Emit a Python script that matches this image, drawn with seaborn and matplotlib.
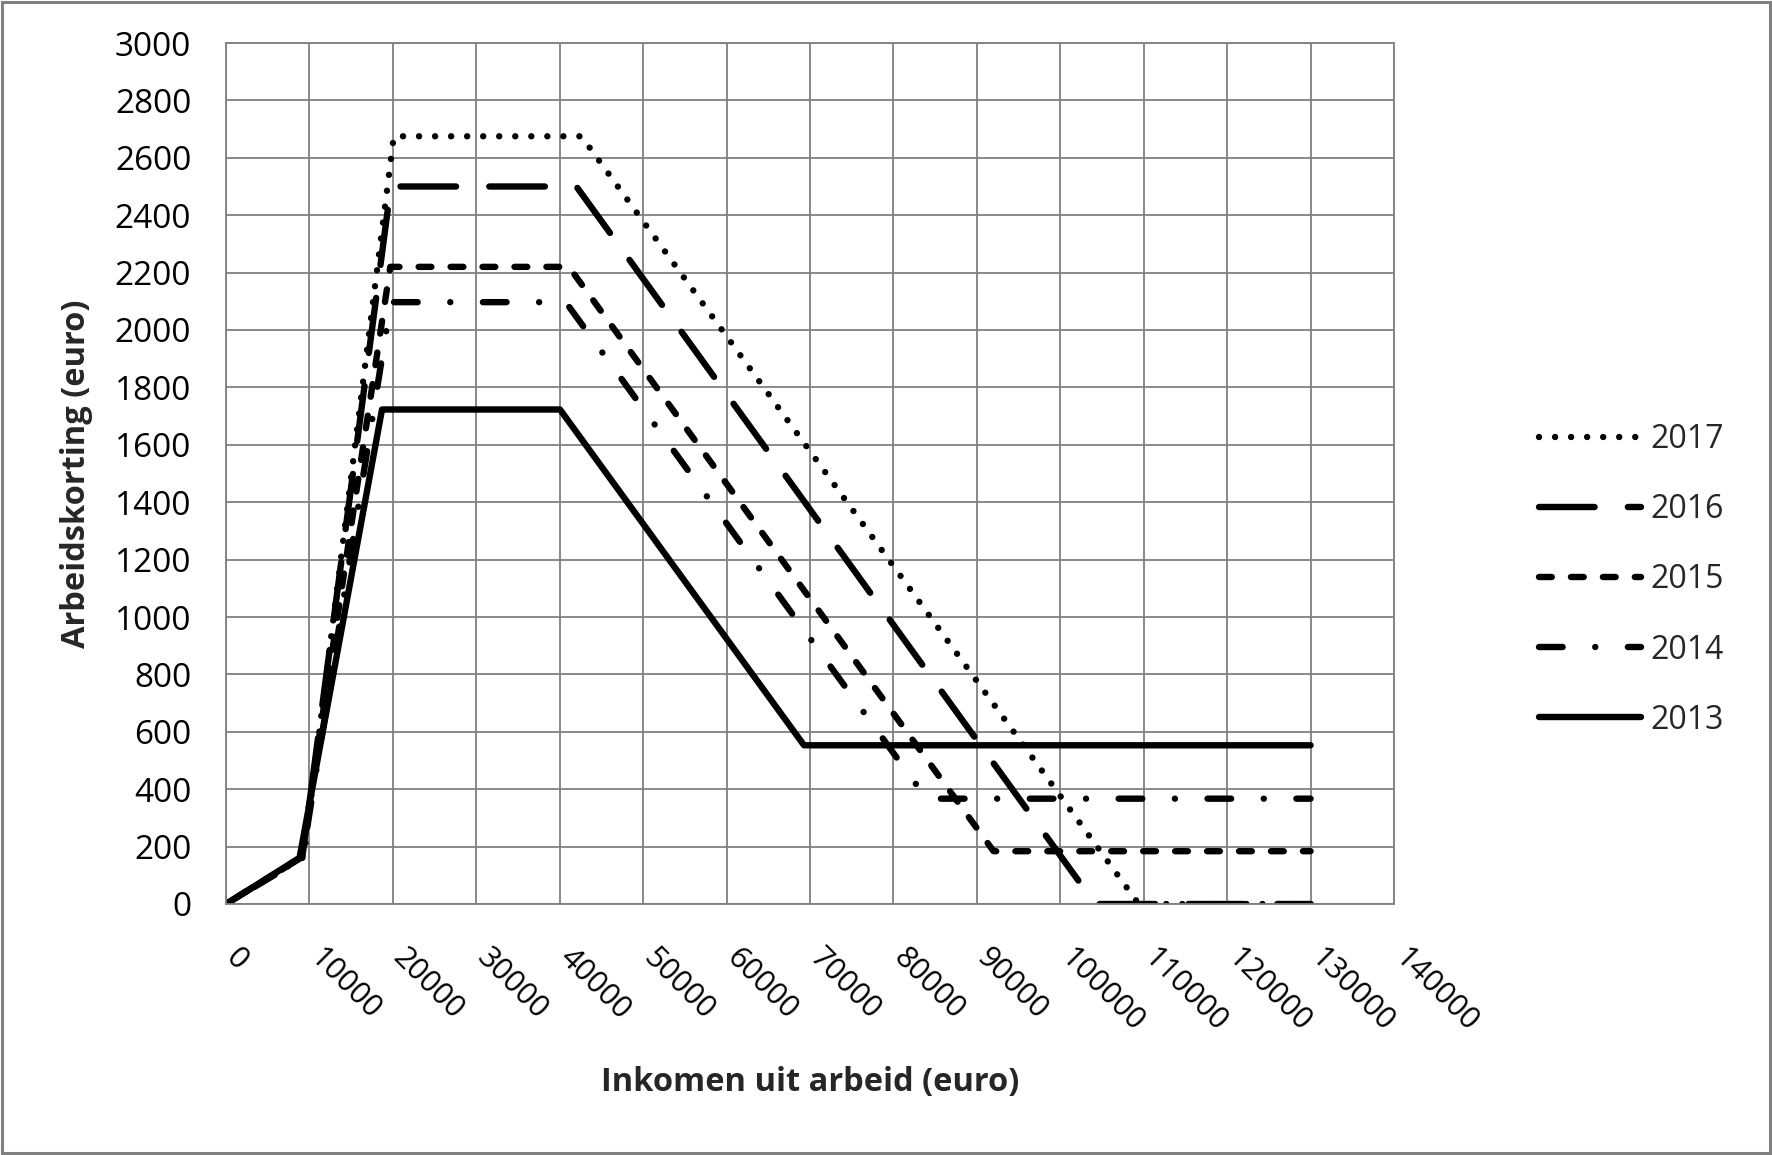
import matplotlib
matplotlib.use("Agg")
import matplotlib.pyplot as plt
import matplotlib.transforms as mtransforms
from matplotlib.patches import Rectangle
from matplotlib.lines import Line2D
import seaborn as sns
import pandas as pd
import numpy as np

# ---- data ----
years = ["2017", "2016", "2015", "2014", "2013"]
x_2013 = [0, 8816, 18700, 40034, 69284, 130000]
y_2013 = [0, 161, 1723, 1723, 553, 553]
x_2014 = [0, 9147, 19758, 40721, 83971, 130000]
y_2014 = [0, 159, 2097, 2097, 367, 367]
x_2015 = [0, 9010, 19690, 41100, 92000, 130000]
y_2015 = [0, 163, 2220, 2220, 184, 184]
x_2016 = [0, 9147, 19758, 42000, 104200, 130000]
y_2016 = [0, 164, 2500, 2500, 0, 0]
x_2017 = [0, 9309, 20108, 42600, 109400, 130000]
y_2017 = [0, 165, 2675, 2675, 0, 0]
x_ticks = list(range(0, 140001, 10000))
y_ticks = list(range(0, 3001, 200))
x_label = "Inkomen uit arbeid (euro)"
y_label = "Arbeidskorting (euro)"

series = {
    "2017": (x_2017, y_2017),
    "2016": (x_2016, y_2016),
    "2015": (x_2015, y_2015),
    "2014": (x_2014, y_2014),
    "2013": (x_2013, y_2013),
}
patterns = {
    "2017": (0.01, 2.5),
    "2016": (8.7, 5.2),
    "2015": (2.0, 3.0),
    "2014": (3.7, 5.1, 0.01, 5.1),
    "2013": None,
}

sns.set_style("white")
plt.rcParams["font.family"] = ["Open Sans", "DejaVu Sans"]

W, H = 1772, 1155
fig = plt.figure(figsize=(W / 100, H / 100), dpi=100)
L, R, T, B = 226, 1394, 43, 904
ax = fig.add_axes([L / W, 1 - B / H, (R - L) / W, (B - T) / H])
ax.set_xlim(0, 140000)
ax.set_ylim(0, 3000)

grid_c = "#808080"
lw = 4.6


def path_len_pts(xs, ys):
    pts = ax.transData.transform(np.column_stack([xs, ys]))
    d = np.sqrt((np.diff(pts, axis=0) ** 2).sum(axis=1)).sum()
    return d * 72.0 / fig.dpi


for yr in years:
    xs, ys = series[yr]
    pat = patterns[yr]
    if pat is None:
        ls = "-"
    else:
        period = sum(pat)
        length_u = path_len_pts(xs, ys) / lw
        # align so that the line ends inside the first dash
        offset = (pat[0] * 0.6 - length_u) % period
        ls = (offset, pat)
    df = pd.DataFrame({"x": xs, "y": ys})
    sns.lineplot(data=df, x="x", y="y", ax=ax, color="black", lw=lw,
                 linestyle=ls, label=yr, sort=False,
                 dash_capstyle="round", solid_capstyle="round",
                 dash_joinstyle="round", solid_joinstyle="round")

ax.set_xlim(0, 140000)
ax.set_ylim(0, 3000)
ax.set_xticks(x_ticks)
ax.set_yticks(y_ticks)
ax.set_xticklabels([str(v) for v in x_ticks])
ax.set_yticklabels([str(v) for v in y_ticks])
ax.grid(True, color=grid_c, lw=1.3)
ax.set_axisbelow(True)
for s in ax.spines.values():
    s.set_color(grid_c)
    s.set_linewidth(1.3)
ax.tick_params(axis="both", length=0, colors="black")
ax.tick_params(axis="y", pad=25, labelsize=24)
ax.tick_params(axis="x", pad=28, labelsize=22)
off = mtransforms.ScaledTranslation(-6 / 100, 0, fig.dpi_scale_trans)
for lab in ax.get_xticklabels():
    lab.set_rotation(-45)
    lab.set_ha("left")
    lab.set_va("top")
    lab.set_transform(lab.get_transform() + off)

ax.set_xlabel(x_label, fontsize=23.5, fontweight="bold")
ax.set_ylabel(y_label, fontsize=23.5, fontweight="bold")
ax.xaxis.set_label_coords(0.5, (B - 1083) / (B - T))
ax.xaxis.label.set_va("center")
ax.yaxis.set_label_coords((77 - L) / (R - L), 0.5)
ax.yaxis.label.set_va("center")

# legend handles without dash offsets
handles, labels = ax.get_legend_handles_labels()
new_handles = []
for yr in labels:
    pat = patterns[yr]
    ls = "-" if pat is None else (0, pat)
    new_handles.append(Line2D([], [], color="black", lw=lw, linestyle=ls,
                              dash_capstyle="round", solid_capstyle="round"))
leg = ax.legend(new_handles, labels, loc="center left",
                bbox_to_anchor=(1539 / W, 1 - 580 / H),
                bbox_transform=fig.transFigure, frameon=False, fontsize=23,
                borderpad=0, borderaxespad=0, handlelength=3.2,
                handletextpad=0.3, labelspacing=1.16)

fig.patches.append(Rectangle((2 / W, 2 / H), 1 - 4 / W, 1 - 4 / H,
                             transform=fig.transFigure, fill=False,
                             edgecolor=grid_c, lw=2.2))

fig.savefig("out.png", dpi=100)
